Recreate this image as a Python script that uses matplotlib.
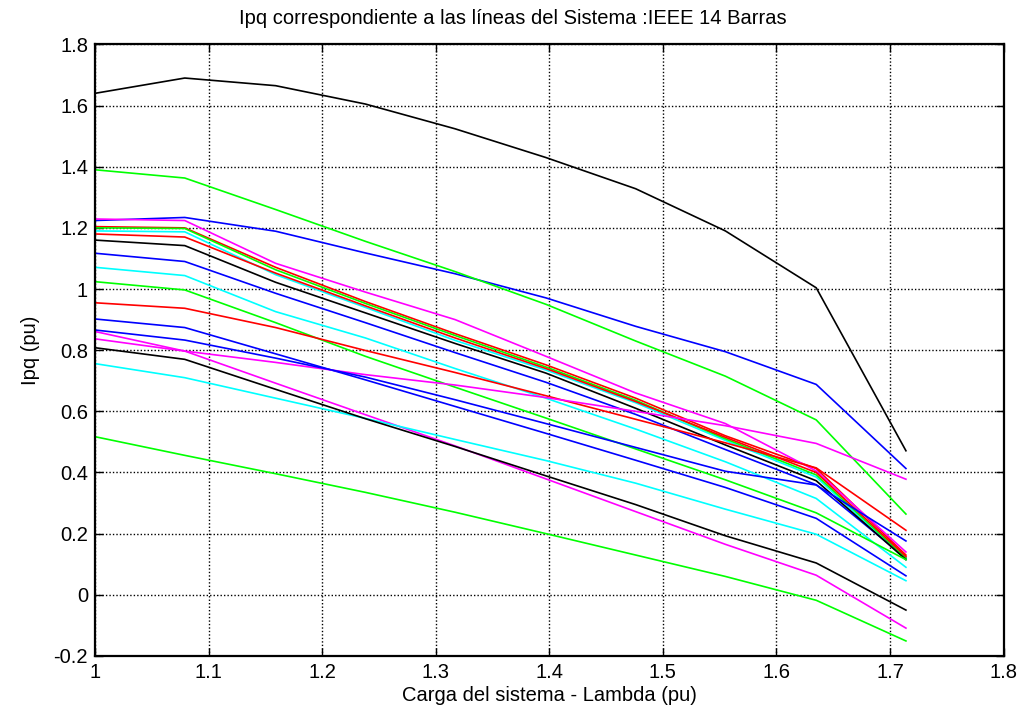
import matplotlib
matplotlib.use("Agg")
import matplotlib.pyplot as plt

plt.rcParams.update({
    "font.family": ["Liberation Sans", "DejaVu Sans"],
    "font.size": 14.5,
})

# load steps of the continuation run (lambda, pu)
lam = [1.0, 1.079, 1.159, 1.238, 1.317, 1.397, 1.476, 1.555, 1.635, 1.714]

# branch currents |Ipq| (pu), one list per line
ipq_b1 = [1.224, 1.234, 1.189, 1.118, 1.050, 0.971, 0.878, 0.795, 0.688, 0.413]
ipq_g1 = [1.390, 1.363, 1.260, 1.156, 1.057, 0.950, 0.830, 0.715, 0.572, 0.264]
ipq_r1 = [1.204, 1.200, 1.071, 0.959, 0.854, 0.752, 0.643, 0.520, 0.413, 0.130]
ipq_c1 = [1.190, 1.187, 1.047, 0.940, 0.832, 0.735, 0.628, 0.505, 0.385, 0.115]
ipq_m1 = [1.229, 1.224, 1.084, 0.990, 0.900, 0.780, 0.660, 0.560, 0.405, 0.140]
ipq_k1 = [1.640, 1.690, 1.665, 1.605, 1.524, 1.430, 1.328, 1.190, 1.004, 0.471]
ipq_b2 = [1.117, 1.090, 0.986, 0.890, 0.792, 0.695, 0.590, 0.475, 0.360, 0.120]
ipq_g2 = [1.200, 1.198, 1.063, 0.953, 0.848, 0.745, 0.636, 0.510, 0.392, 0.120]
ipq_r2 = [1.180, 1.170, 1.052, 0.945, 0.840, 0.740, 0.632, 0.515, 0.400, 0.125]
ipq_c2 = [1.071, 1.044, 0.926, 0.840, 0.740, 0.643, 0.542, 0.435, 0.315, 0.090]
ipq_m2 = [0.861, 0.797, 0.692, 0.589, 0.487, 0.379, 0.272, 0.165, 0.064, -0.109]
ipq_k2 = [1.160, 1.142, 1.022, 0.922, 0.822, 0.725, 0.610, 0.490, 0.373, 0.115]
ipq_b3 = [0.902, 0.874, 0.788, 0.703, 0.616, 0.528, 0.440, 0.351, 0.250, 0.062]
ipq_g3 = [1.024, 0.997, 0.890, 0.780, 0.679, 0.578, 0.477, 0.376, 0.268, 0.115]
ipq_r3 = [0.955, 0.937, 0.874, 0.799, 0.727, 0.651, 0.574, 0.497, 0.415, 0.211]
ipq_c3 = [0.756, 0.710, 0.643, 0.577, 0.508, 0.439, 0.365, 0.280, 0.198, 0.046]
ipq_m3 = [0.837, 0.797, 0.760, 0.720, 0.686, 0.645, 0.600, 0.553, 0.495, 0.378]
ipq_k3 = [0.808, 0.770, 0.672, 0.576, 0.485, 0.389, 0.295, 0.193, 0.104, -0.050]
ipq_b4 = [0.866, 0.833, 0.774, 0.712, 0.638, 0.560, 0.482, 0.404, 0.359, 0.176]
ipq_g4 = [0.517, 0.456, 0.396, 0.335, 0.270, 0.200, 0.130, 0.060, -0.018, -0.151]

xticks = [1.0, 1.1, 1.2, 1.3, 1.4, 1.5, 1.6, 1.7, 1.8]
xtick_labels = ["1", "1.1", "1.2", "1.3", "1.4", "1.5", "1.6", "1.7", "1.8"]
yticks = [-0.2, 0.0, 0.2, 0.4, 0.6, 0.8, 1.0, 1.2, 1.4, 1.6, 1.8]
ytick_labels = ["-0.2", "0", "0.2", "0.4", "0.6", "0.8", "1", "1.2", "1.4", "1.6", "1.8"]

# plain b g r c m k cycle
B, G, R, C, M, K = "#0000ff", "#00ff00", "#ff0000", "#00ffff", "#ff00ff", "#000000"
series = [
    (ipq_b1, B), (ipq_g1, G), (ipq_r1, R), (ipq_c1, C), (ipq_m1, M), (ipq_k1, K),
    (ipq_b2, B), (ipq_g2, G), (ipq_r2, R), (ipq_c2, C), (ipq_m2, M), (ipq_k2, K),
    (ipq_b3, B), (ipq_g3, G), (ipq_r3, R), (ipq_c3, C), (ipq_m3, M), (ipq_k3, K),
    (ipq_b4, B), (ipq_g4, G),
]

fig = plt.figure(figsize=(10.22, 7.22), dpi=100)
ax = fig.add_axes([0.093, 0.0915, 0.889, 0.847])

for vals, col in series:
    ax.plot(lam, vals, color=col, lw=1.2)

ax.set_xlim(1.0, 1.8)
ax.set_ylim(-0.2, 1.8)
ax.set_xticks(xticks)
ax.set_xticklabels(xtick_labels)
ax.set_yticks(yticks)
ax.set_yticklabels(ytick_labels)
ax.tick_params(direction="in", length=6, width=1, top=True, right=True,
               labelsize=14.5, pad=5)
ax.grid(True, color="black", ls=(0, (1, 1.5)), lw=1.0)
for sp in ax.spines.values():
    sp.set_linewidth(1.6)

ttl = ax.set_title("Ipq correspondiente a las líneas del Sistema :IEEE 14 Barras",
                   fontsize=14.5, pad=15)
ttl.set_x(0.46)
ax.set_xlabel("Carga del sistema - Lambda (pu)", fontsize=14.5, labelpad=3)
ax.set_ylabel("Ipq (pu)", fontsize=14.5, labelpad=10)

fig.savefig("out.png", dpi=100)
